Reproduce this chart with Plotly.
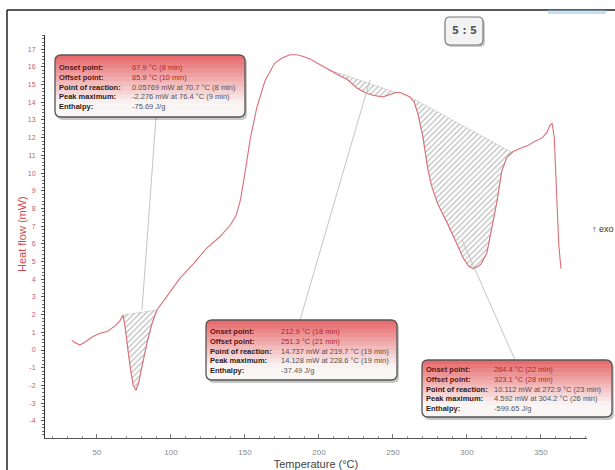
import numpy as np
import plotly.graph_objects as go

# ---------------- data ----------------
temperature = [33, 35, 38.5, 42, 47, 52, 57, 62, 65.5, 67.6, 69, 70.7, 72.5, 74.5, 76.4, 78,
               80.4, 83.8, 87.2, 90.5, 97, 106, 115, 124, 133, 140, 144, 147, 150, 153.5,
               158, 163.5, 170, 175, 180.5, 185, 189, 194, 199, 204, 209.5, 214, 219, 225.7,
               231, 236.5, 243, 248, 252, 255, 258, 261.5, 264.4, 267, 270.3, 273.6, 276, 280,
               286.5, 293, 297.5, 301, 304.2, 307, 309.5, 313.5, 317.5, 320.5, 323.5, 327,
               331, 336, 341, 345, 351, 354, 356, 357.5, 359, 360.5, 362, 363.5]
heat_flow = [0.56, 0.42, 0.28, 0.45, 0.75, 0.95, 1.05, 1.35, 1.65, 1.98, 1.3, 0.1, -1.0, -2.0,
             -2.27, -1.9, -0.95, 0.4, 1.5, 2.26, 3.0, 4.05, 4.85, 5.75, 6.4, 7.05, 7.6, 8.5, 10.0,
             11.9, 13.7, 15.2, 16.2, 16.5, 16.68, 16.68, 16.6, 16.45, 16.2, 15.95, 15.7, 15.5,
             15.3, 14.8, 14.55, 14.4, 14.3, 14.42, 14.55, 14.55, 14.45, 14.3, 14.0, 13.3, 12.0,
             10.2, 9.3, 8.3, 7.2, 6.05, 5.2, 4.75, 4.6, 4.7, 4.85, 5.5, 7.2, 8.5, 10.1, 10.9,
             11.2, 11.4, 11.55, 11.75, 12.0, 12.3, 12.7, 12.8, 12.0, 9.0, 6.0, 4.6]

# integration limits (baseline end points) of the three peaks
peak_starts = [67.6, 206.0, 261.5]
peak_ends = [90.5, 252.0, 330.5]

box_labels = ["Onset point:", "Offset point:", "Point of reaction:", "Peak maximum:", "Enthalpy:"]
box1_values = ["67.9 °C (8 min)", "85.9 °C (10 min)", "0.05769 mW at 70.7 °C (8 min)",
               "-2.276 mW at 76.4 °C (9 min)", "-75.69 J/g"]
box2_values = ["212.9 °C (18 min)", "251.3 °C (21 min)", "14.737 mW at 219.7 °C (19 min)",
               "14.128 mW at 228.6 °C (19 min)", "-37.49 J/g"]
box3_values = ["264.4 °C (22 min)", "323.1 °C (28 min)", "10.112 mW at 272.9 °C (23 min)",
               "4.592 mW at 304.2 °C (26 min)", "-599.65 J/g"]

x_ticks = [50, 100, 150, 200, 250, 300, 350]
y_ticks = list(range(-4, 18))

# ---------------- layout geometry (pixels) ----------------
W, H = 615, 470
ML, MR, MT, MB = 45, 28, 35, 32
PW, PH = W - ML - MR, H - MT - MB


def px(x):
    return (x - ML) / PW


def py(y):
    return (H - MB - y) / PH


T = np.array(temperature, dtype=float)
Q = np.array(heat_flow, dtype=float)

fig = go.Figure()

# hatched peak areas
for a, b in zip(peak_starts, peak_ends):
    qa, qb = np.interp(a, T, Q), np.interp(b, T, Q)
    m = (T > a) & (T < b)
    xs = [a] + list(T[m]) + [b, a]
    ys = [qa] + list(Q[m]) + [qb, qa]
    fig.add_trace(go.Scatter(
        x=xs, y=ys, mode="lines", fill="toself", line=dict(width=0.6, color="rgba(140,140,140,0.5)"),
        fillcolor="rgba(255,255,255,0)",
        fillpattern=dict(shape="/", fgcolor="#7a7a7a", bgcolor="rgba(255,255,255,0)", size=4, solidity=0.3),
        hoverinfo="skip", showlegend=False))

# DSC curve
fig.add_trace(go.Scatter(x=temperature, y=heat_flow, mode="lines",
                         line=dict(color="#dc6e76", width=1.1), showlegend=False))

shapes = []
annotations = []

# outer frame lines
shapes.append(dict(type="line", xref="paper", yref="paper", x0=px(7), x1=px(616), y0=py(10), y1=py(10),
                   line=dict(color="#222", width=1.5)))
shapes.append(dict(type="line", xref="paper", yref="paper", x0=px(7), x1=px(7), y0=py(10), y1=py(471),
                   line=dict(color="#222", width=1.5)))
# faint blue smudge top right
shapes.append(dict(type="rect", xref="paper", yref="paper", x0=px(548), x1=px(606), y0=py(14), y1=py(10),
                   line=dict(width=0), fillcolor="rgba(150,190,215,0.5)"))

# leader lines
for (x0, y0, x1, y1) in [(156, 117, 142, 310), (300, 320, 370, 80), (515, 360, 462, 240)]:
    shapes.append(dict(type="line", xref="paper", yref="paper", x0=px(x0), y0=py(y0), x1=px(x1), y1=py(y1),
                       line=dict(color="rgba(190,190,190,0.9)", width=1)))


def rounded_path(x0, y0, x1, y1, r, top=True, bottom=True):
    def P(x, y):
        return f"{px(x):.5f},{py(y):.5f}"
    rt = r if top else 0
    rb = r if bottom else 0
    d = f"M {P(x0 + rt, y0)} L {P(x1 - rt, y0)} "
    if rt:
        d += f"Q {P(x1, y0)} {P(x1, y0 + rt)} "
    d += f"L {P(x1, y1 - rb)} "
    if rb:
        d += f"Q {P(x1, y1)} {P(x1 - rb, y1)} "
    d += f"L {P(x0 + rb, y1)} "
    if rb:
        d += f"Q {P(x0, y1)} {P(x0, y1 - rb)} "
    d += f"L {P(x0, y0 + rt)} "
    if rt:
        d += f"Q {P(x0, y0)} {P(x0 + rt, y0)} "
    return d + "Z"


def callout(x0, y0, x1, y1, values, val_off):
    r = 6
    shapes.append(dict(type="path", xref="paper", yref="paper", path=rounded_path(x0 + 2, y0 + 2, x1 + 2, y1 + 3, r),
                       line=dict(width=0), fillcolor="rgba(0,0,0,0.22)"))
    n = 14
    hgt = (y1 - y0) / n
    c0 = np.array([232, 108, 110])
    c1 = np.array([250, 246, 246])
    for i in range(n):
        t = min(1.0, i / (n - 1) * 1.25)
        c = (c0 + (c1 - c0) * t).astype(int)
        ya, yb = y0 + i * hgt, min(y1, y0 + (i + 1) * hgt + 0.6)
        if i == 0:
            p = rounded_path(x0, ya, x1, yb, r, True, False)
        elif i == n - 1:
            p = rounded_path(x0, ya, x1, y1, r, False, True)
        else:
            p = rounded_path(x0, ya, x1, yb, 0, False, False)
        shapes.append(dict(type="path", xref="paper", yref="paper", path=p,
                           line=dict(width=0), fillcolor=f"rgb({c[0]},{c[1]},{c[2]})"))
    shapes.append(dict(type="path", xref="paper", yref="paper", path=rounded_path(x0, y0, x1, y1, r),
                       line=dict(color="#555", width=1.3), fillcolor="rgba(0,0,0,0)"))
    lab_cols = ["#5a1414", "#5a1414", "#2a1a1a", "#2a1a1a", "#2a1a1a"]
    val_cols = ["#b3262c", "#b3262c", "#6a4a4a", "#555", "#555"]
    lab_txt = "<br>".join(f"<span style='color:{c}'><b>{s}</b></span>" for s, c in zip(box_labels, lab_cols))
    val_txt = "<br>".join(f"<span style='color:{c}'>{s}</span>" for s, c in zip(values, val_cols))
    yc = (y0 + y1) / 2 + 0.5
    annotations.append(dict(xref="paper", yref="paper", x=px(x0 + 3), y=py(yc), xanchor="left", yanchor="middle",
                            text=lab_txt, showarrow=False, align="left", borderpad=0,
                            font=dict(family="Liberation Sans, Arial", size=7.5)))
    annotations.append(dict(xref="paper", yref="paper", x=px(x0 + val_off), y=py(yc), xanchor="left", yanchor="middle",
                            text=val_txt, showarrow=False, align="left", borderpad=0,
                            font=dict(family="Liberation Sans, Arial", size=7.5)))


callout(55, 55, 245, 117, box1_values, 76)
callout(206, 320, 397, 380, box2_values, 74)
callout(422, 360, 612, 417, box3_values, 71)

# "5 : 5" label box
shapes.append(dict(type="path", xref="paper", yref="paper", path=rounded_path(447, 19, 485, 47, 5),
                   line=dict(width=0), fillcolor="rgba(0,0,0,0.2)"))
shapes.append(dict(type="path", xref="paper", yref="paper", path=rounded_path(445, 17, 483, 45, 5),
                   line=dict(color="#777", width=1.2), fillcolor="#f3f3f3"))
annotations.append(dict(xref="paper", yref="paper", x=px(464), y=py(31), text="<b>5 : 5</b>", showarrow=False,
                        xanchor="center", yanchor="middle", font=dict(family="DejaVu Sans", size=10, color="#555")))

# exo indicator
annotations.append(dict(xref="paper", yref="paper", x=px(615), y=py(229), text="<b>↑</b> exo", showarrow=False,
                        xanchor="right", yanchor="middle", borderpad=0,
                        font=dict(family="Liberation Sans, Arial", size=9, color="#333")))

# y-axis title (placed as rotated text to match the reference position)
annotations.append(dict(xref="paper", yref="paper", x=px(22), y=py(234), text="Heat flow (mW)", showarrow=False,
                        textangle=-90, xanchor="center", yanchor="middle",
                        font=dict(family="Liberation Sans, Arial", size=11, color="#d04a50")))

fig.update_layout(
    width=W, height=H,
    margin=dict(l=ML, r=MR, t=MT, b=MB),
    paper_bgcolor="white", plot_bgcolor="white",
    shapes=shapes, annotations=annotations,
    showlegend=False,
    xaxis=dict(range=[14.9, 381.1], tickvals=x_ticks, ticktext=[str(v) for v in x_ticks],
               automargin=False,
               showgrid=False, zeroline=False, showline=True, linecolor="#555", linewidth=1,
               ticks="inside", ticklen=4, tickcolor="#777", ticklabelstandoff=6,
               minor=dict(dtick=10, ticks="inside", ticklen=2, tickcolor="#999"),
               tickfont=dict(family="Liberation Sans, Arial", size=8, color="#888"),
               title=dict(text="Temperature (°C)", standoff=6,
                          font=dict(family="Liberation Sans, Arial", size=11, color="#444"))),
    yaxis=dict(range=[-4.97, 17.8], tickvals=y_ticks, ticktext=[str(v) for v in y_ticks],
               automargin=False,
               showgrid=False, zeroline=False, showline=True, linecolor="#333", linewidth=1,
               ticks="outside", ticklen=3, tickcolor="#555", ticklabelstandoff=4,
               minor=dict(dtick=0.2, ticks="outside", ticklen=2, tickcolor="#666"),
               tickfont=dict(family="Liberation Sans, Arial", size=7, color="#c0606a")),
)

fig.write_html("out.html", config={"displayModeBar": False},
               post_script="document.body.style.margin='0';document.body.style.overflow='hidden';")
